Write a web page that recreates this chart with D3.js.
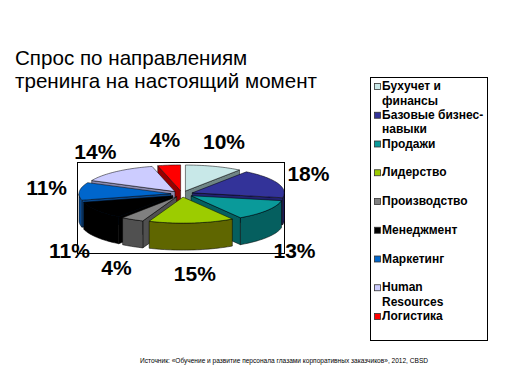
<!DOCTYPE html>
<html><head><meta charset="utf-8">
<script src="https://cdn.jsdelivr.net/npm/d3@7"></script>
<style>html,body{margin:0;padding:0;background:#fff;} svg{display:block;}</style>
</head><body>
<script>
const categories = [["Бухучет и","финансы"],["Базовые бизнес-","навыки"],["Продажи"],["Лидерство"],["Производство"],["Менеджмент"],["Маркетинг"],["Human","Resources"],["Логистика"]];
const values = [10,18,13,15,4,11,11,14,4];
const valueLabels = ["10%","18%","13%","15%","4%","11%","11%","14%","4%"];
const topColors = ["#c8e8e8","#333399","#0a9a9a","#9ccc00","#808080","#000000","#0066cc","#ccccff","#ff0000"];
const sideColors = ["#6f8585","#222270","#055f5f","#5f6600","#505050","#000000","#0a4a90","#8a8ab0","#990000"];
const titleLines = ["Спрос по направлениям","тренинга на настоящий момент"];
const sourceText = "Источник: «Обучение и развитие персонала глазами корпоративных заказчиков», 2012, CBSD";

const W=509,H=387;
const svg=d3.select("body").append("svg").attr("width",W).attr("height",H);
const font="'Liberation Sans', Arial, sans-serif";

svg.append("g").selectAll("text").data(titleLines).join("text")
 .attr("x",15).attr("y",(d,i)=>65+i*23)
 .attr("font-family",font).attr("font-size",20.6).attr("fill","#000").text(d=>d);

svg.append("rect").attr("x",77.5).attr("y",162.5).attr("width",207).attr("height",91)
 .attr("fill","none").attr("stroke","#000").attr("stroke-width",1);

const cx=182, cy=194, rx=92, ry=26, depth=27, explode=0.12;
const sx=d3.scaleLinear().domain([-1,1]).range([cx-rx,cx+rx]);
const sy=d3.scaleLinear().domain([-1,1]).range([cy-ry,cy+ry]);
const color=d3.scaleOrdinal().domain(d3.range(values.length)).range(topColors);
const sideColor=d3.scaleOrdinal().domain(d3.range(values.length)).range(sideColors);

const arcs=d3.pie().sort(null).value(d=>d)(values).map((d,i)=>{
  const mid=(d.startAngle+d.endAngle)/2;
  return {...d, i, mid, off:{x:explode*Math.sin(mid), y:-explode*Math.cos(mid)}};
});
function P(a,r,z,off){ return [sx(off.x + r*Math.sin(a)), sy(off.y - r*Math.cos(a)) + z]; }
const line=d3.line();
function arcPts(a0,a1,z,off){
  const n=Math.max(2,Math.ceil((a1-a0)/0.03));
  return d3.range(n+1).map(k=>P(a0+(a1-a0)*k/n,1,z,off));
}
const order=arcs.slice().sort((a,b)=>(-Math.cos(a.mid))-(-Math.cos(b.mid)));
const pieG=svg.append("g");
order.forEach(d=>{
  const g=pieG.append("g");
  const a0=d.startAngle,a1=d.endAngle,off=d.off;
  const faces=[];
  if(Math.sin(a0)<0) faces.push(a0);
  if(Math.sin(a1)>0) faces.push(a1);
  faces.forEach(a=>{
    const pts=[P(0,0,0,off),P(a,1,0,off),P(a,1,depth,off),P(0,0,depth,off)];
    g.append("path").attr("d",line(pts)+"Z").attr("fill",sideColor(d.i))
     .attr("stroke","#000").attr("stroke-width",0.5).attr("stroke-linejoin","round");
  });
  const w0=Math.max(a0,Math.PI/2), w1=Math.min(a1,3*Math.PI/2);
  if(w1>w0){
    const pts=arcPts(w0,w1,0,off).concat(arcPts(w0,w1,depth,off).reverse());
    g.append("path").attr("d",line(pts)+"Z").attr("fill",sideColor(d.i))
     .attr("stroke","#000").attr("stroke-width",0.5).attr("stroke-linejoin","round");
  }
  const tp=[P(0,0,0,off)].concat(arcPts(a0,a1,0,off));
  g.append("path").attr("d",line(tp)+"Z").attr("fill",color(d.i))
   .attr("stroke","#000").attr("stroke-width",0.5).attr("stroke-linejoin","round");
});

const lrx=136, lry=54;
svg.append("g").selectAll("text").data(arcs).join("text")
 .attr("x",d=>cx+lrx*Math.sin(d.mid))
 .attr("y",d=>cy-1-lry*Math.cos(d.mid)+(Math.cos(d.mid)<0?depth:0))
 .attr("dy","0.36em").attr("text-anchor","middle")
 .attr("font-family",font).attr("font-size",21).attr("font-weight","bold").attr("fill","#000")
 .text(d=>valueLabels[d.i]);

svg.append("rect").attr("x",370.5).attr("y",77.5).attr("width",117).attr("height",263)
 .attr("fill","#fff").attr("stroke","#000").attr("stroke-width",1);
const leg=svg.append("g").selectAll("g").data(categories).join("g")
 .attr("transform",(d,i)=>`translate(0,${90+i*28.75})`);
leg.append("rect").attr("x",374.5).attr("y",-6.5).attr("width",6).attr("height",6)
 .attr("fill",(d,i)=>color(i)).attr("stroke","#333").attr("stroke-width",0.8);
leg.each(function(lines){
  d3.select(this).selectAll("text").data(lines).join("text")
   .attr("x",382).attr("y",(t,j)=>j*14.5)
   .attr("font-family",font).attr("font-size",12).attr("font-weight","bold").attr("fill","#000")
   .text(t=>t);
});

svg.append("text").attr("x",140).attr("y",363).attr("font-family",font).attr("font-size",7.5)
 .attr("textLength",288).attr("lengthAdjust","spacingAndGlyphs").attr("fill","#000").text(sourceText);
</script>
</body></html>
